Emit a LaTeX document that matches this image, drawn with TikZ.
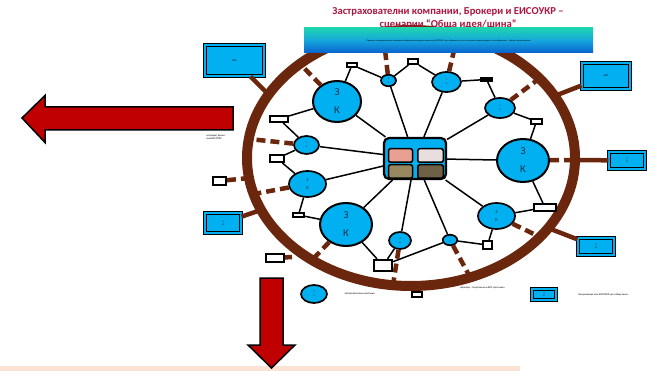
\documentclass[tikz,border=0pt]{standalone}
\usepackage{fontspec}
\setmainfont{Carlito}
\usetikzlibrary{shapes.geometric}
\definecolor{zkblue}{RGB}{0,176,240}
\definecolor{ringbrown}{RGB}{107,38,14}
\definecolor{arrowred}{RGB}{192,0,0}
\definecolor{titlered}{RGB}{170,22,62}
\definecolor{letterblue}{RGB}{25,45,75}
\definecolor{bandtop}{RGB}{30,212,176}
\definecolor{bandmid}{RGB}{22,165,222}
\definecolor{bandbot}{RGB}{8,98,204}
\definecolor{peach}{RGB}{251,226,213}
\definecolor{slotpink}{RGB}{232,160,146}
\definecolor{slotgray}{RGB}{232,222,222}
\definecolor{slotolive}{RGB}{151,136,96}
\definecolor{slotdark}{RGB}{110,97,70}
\newcommand{\tinytext}{\fontsize{2.6}{3.2}\selectfont}
\tikzset{
    zk/.style={ellipse, draw=black, line width=1.7pt, fill=zkblue, inner sep=0pt, align=center, text=letterblue, font=\fontsize{2.5}{4}\selectfont},
    bigzk/.style={zk, line width=2pt, font=\fontsize{10.5}{18}\selectfont},
    port/.style={draw=black, line width=1.9pt, fill=white, inner sep=0pt},
    extbox/.style={draw=black, line width=1.2pt, double=zkblue, double distance=1.8pt, fill=zkblue, inner sep=0pt, align=center, font=\tinytext},
    slot/.style={draw=black, line width=1.5pt, rounded corners=2pt, inner sep=0pt, minimum height=13.5pt},
    link/.style={draw=black, line width=1.5pt},
    spoke/.style={draw=ringbrown, line width=4.5pt, dash pattern=on 9pt off 5pt},
    tie/.style={draw=ringbrown, line width=4.5pt},
    bigarrow/.style={draw=black, line width=1.5pt, fill=arrowred, line join=miter}
}

\begin{document}
\begin{tikzpicture}[x=1pt, y=-1pt]
    \useasboundingbox (0,0) rectangle (652,371);
    \fill[peach] (0,366) rectangle (520,371);

    \draw[ringbrown, line width=10pt] (411,158) ellipse [x radius=164, y radius=128];

    \coordinate (r1) at (302,66);
    \coordinate (r2) at (383,32);
    \coordinate (r3) at (458,34);
    \coordinate (r4) at (540,78);
    \coordinate (r5) at (575,160);
    \coordinate (r6) at (540,237);
    \coordinate (r7) at (470,277);
    \coordinate (r8) at (393,285);
    \coordinate (r9) at (313,259);
    \coordinate (r10) at (254,194);
    \coordinate (r11) at (249,139);
    \coordinate (r12) at (249,178);
    \coordinate (r13) at (292,257);
    \coordinate (t1) at (268,94);
    \coordinate (t2) at (552,97);
    \coordinate (t4) at (548,228);
    \coordinate (t5) at (258,211);

    \node[draw=black, line width=2.2pt, fill=zkblue, rounded corners=5pt, minimum width=62pt, minimum height=41pt] (eis) at (415,158.5) {};
    \node[slot, fill=slotpink, minimum width=24pt] (slot1) at (400.5,155.5) {};
    \node[slot, fill=slotgray, minimum width=25.5pt] (slot2) at (430.5,155.5) {};
    \node[slot, fill=slotolive, minimum width=24pt] (slot3) at (400.5,171.5) {};
    \node[slot, fill=slotdark, minimum width=25.5pt] (slot4) at (430.5,171.5) {};

    \node[bigzk, minimum width=48pt, minimum height=41pt] (zk1) at (337,101.5) {З\\К};
    \node[zk, minimum width=15pt, minimum height=11.5pt] (zk2) at (388.5,80.5) {З\\К};
    \node[zk, minimum width=29pt, minimum height=20pt] (zk3) at (446.5,82) {З\\К};
    \node[zk, minimum width=30pt, minimum height=20pt] (zk4) at (500,108) {З\\К};
    \node[bigzk, minimum width=52pt, minimum height=43pt] (zk5) at (523,160.5) {З\\К};
    \node[zk, minimum width=25pt, minimum height=18pt] (zk6) at (306.5,145) {З\\К};
    \node[zk, minimum width=37pt, minimum height=26pt, font=\fontsize{4.5}{8}\selectfont] (zk7) at (307.5,184) {З\\К};
    \node[bigzk, minimum width=52pt, minimum height=43pt] (zk8) at (346,224.5) {З\\К};
    \node[zk, minimum width=22pt, minimum height=17pt] (zk9) at (400,240.5) {З\\К};
    \node[zk, minimum width=14.5pt, minimum height=10.5pt] (zk10) at (450,240) {З\\К};
    \node[zk, minimum width=37pt, minimum height=26pt, font=\fontsize{4.5}{8}\selectfont] (zk11) at (496.5,216) {З\\К};

    \node[port, minimum width=10.2pt, minimum height=4.2pt] (p1) at (352,65) {};
    \node[port, minimum width=10.2pt, minimum height=5.2pt] (p2) at (413,61.5) {};
    \node[port, fill=black, minimum width=11pt, minimum height=3.2pt] (p3) at (486.5,79.5) {};
    \node[port, minimum width=11pt, minimum height=5pt] (p4) at (536.5,121.5) {};
    \node[port, minimum width=18pt, minimum height=6pt] (p5) at (279,119) {};
    \node[port, minimum width=14pt, minimum height=7pt] (p6) at (277,158.5) {};
    \node[port, minimum width=13pt, minimum height=8pt] (p7) at (219.5,181) {};
    \node[port, minimum width=11pt, minimum height=4pt] (p8) at (298.5,215) {};
    \node[port, line width=2.3pt, minimum width=18pt, minimum height=11pt] (p9) at (383,265.5) {};
    \node[port, minimum width=9pt, minimum height=8pt] (p10) at (487.5,245) {};
    \node[port, minimum width=22pt, minimum height=7pt] (p11) at (545,207.5) {};
    \node[port, minimum width=18pt, minimum height=8pt] (p12) at (275,258) {};
    \node[port, minimum width=10pt, minimum height=5pt] (p13) at (417,294.5) {};

    \node[extbox, minimum width=59pt, minimum height=31pt] (b1) at (234.5,60.5) {ЕИС};
    \node[extbox, minimum width=48pt, minimum height=26pt] (b2) at (606,76) {ЕИС};
    \node[extbox, minimum width=36pt, minimum height=17pt] (b3) at (627,160.5) {З\\К};
    \node[extbox, minimum width=36pt, minimum height=17pt] (b4) at (596,246.5) {З\\К};
    \node[extbox, minimum width=36pt, minimum height=20pt] (b5) at (223,223) {З\\К};
    \node[extbox, minimum width=24pt, minimum height=11pt] (b6) at (544,294.5) {З\\К};
    \node[zk, minimum width=26pt, minimum height=18pt] (zk12) at (314,294) {З\\К};

    \foreach \z in {zk1,zk2,zk3,zk4,zk5,zk6,zk7,zk8,zk9,zk10,zk11}
        \draw[link] (eis) -- (\z);
    \draw[link] (zk1) -- (p1) -- (zk2) -- (p2) -- (zk3) -- (p3) -- (zk4) -- (p4) -- (zk5) -- (p11) -- (zk11) -- (p10) -- (zk10) -- (p9);
    \draw[link] (zk9) -- (p9) -- (zk8) -- (p8) -- (zk7) -- (p6) -- (zk6) -- (p5) -- (zk1);

    \draw[spoke] (zk1) -- (r1);
    \draw[spoke] (zk2) -- (r2);
    \draw[spoke] (zk3) -- (r3);
    \draw[spoke] (zk4) -- (r4);
    \draw[spoke] (zk5) -- (r5);
    \draw[spoke] (zk11) -- (r6);
    \draw[spoke] (zk10) -- (r7);
    \draw[spoke] (zk9) -- (r8);
    \draw[spoke] (zk8) -- (r9);
    \draw[spoke] (zk7) -- (r10);
    \draw[spoke] (zk6) -- (r11);
    \draw[spoke] (p7) -- (r12);
    \draw[spoke] (p12) -- (r13);
    \draw[tie] (b1) -- (t1);
    \draw[tie] (b2) -- (t2);
    \draw[tie] (b3) -- (r5);
    \draw[tie] (b4) -- (t4);
    \draw[tie] (b5) -- (t5);

    \draw[bigarrow] (22,118) -- (45,95.5) -- (45,107) -- (233,107) -- (233,130) -- (45,130) -- (45,142.5) -- cycle;
    \draw[bigarrow] (260,278) -- (283,278) -- (283,345) -- (295,345) -- (271.5,368) -- (248,345) -- (260,345) -- cycle;

    \node[anchor=north west, font=\tinytext, align=left] (note) at (203,132) {изпращат данни\\към ЕИСОУКР};
    \node[anchor=west, font=\tinytext] (lg1) at (341,294) {Застрахователни компании};
    \node[anchor=west, font=\tinytext] (lg2) at (457,287.5) {Брокери – свързани към ЕИС чрез шина};
    \node[anchor=west, font=\tinytext] (lg3) at (575,294.5) {Комуникация към ЕИСОУКР чрез обща шина};

    \node[font=\fontsize{10.6}{13}\selectfont\bfseries, text=titlered, align=center] (title) at (448,18.5) {Застрахователни компании, Брокери и ЕИСОУКР –\\сценарии “Обща идея/шина”};
    \node[top color=bandtop, bottom color=bandbot, middle color=bandmid, minimum width=289pt, minimum height=25pt, inner sep=0pt, font=\fontsize{2.2}{3}\selectfont] (band) at (448.5,40.5) {Пример: застрахователните компании и брокерите изпращат данни към ЕИСОУКР през обща шина, като се използва единен формат на съобщенията – обмен в реално време};
\end{tikzpicture}
\end{document}
